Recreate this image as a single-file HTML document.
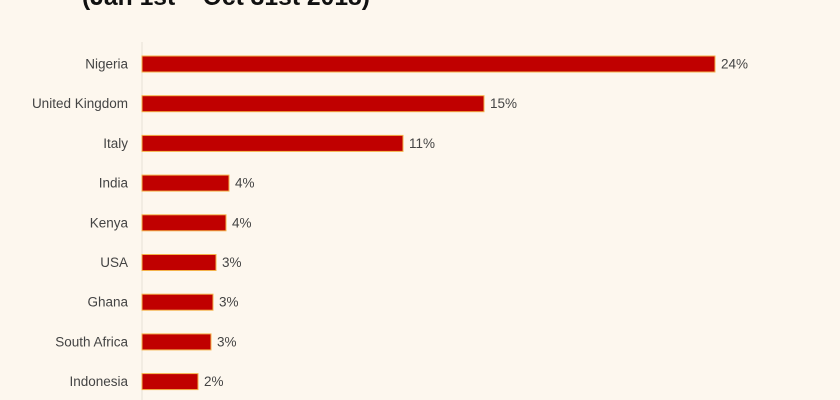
<!DOCTYPE html>
<html><head><style>
body{margin:0;background:#fdf7ee;}
svg{display:block;font-family:"Liberation Sans",sans-serif;}
</style></head><body>
<svg width="840" height="400" xmlns="http://www.w3.org/2000/svg">
<rect width="840" height="400" fill="#fdf7ee"/>
<text x="226" y="5" text-anchor="middle" font-size="25" font-weight="bold" fill="#111" textLength="288" lengthAdjust="spacingAndGlyphs">(Jan 1st – Oct 31st 2018)</text>
<line x1="142" y1="42" x2="142" y2="400" stroke="#e6e0d6" stroke-width="1"/>
<g font-size="13.5" fill="#444">
<g stroke="#f4b24a" stroke-width="1" fill="#c00000">
<rect x="142" y="56" width="573" height="16"/>
<rect x="142" y="95.7" width="342" height="16"/>
<rect x="142" y="135.4" width="261" height="16"/>
<rect x="142" y="175.1" width="87" height="16"/>
<rect x="142" y="214.8" width="84" height="16"/>
<rect x="142" y="254.5" width="74" height="16"/>
<rect x="142" y="294.2" width="71" height="16"/>
<rect x="142" y="333.9" width="69" height="16"/>
<rect x="142" y="373.6" width="56" height="16"/>
</g>
<g text-anchor="end">
<text x="128" y="68.5">Nigeria</text>
<text x="128" y="108.2">United Kingdom</text>
<text x="128" y="147.9">Italy</text>
<text x="128" y="187.6">India</text>
<text x="128" y="227.3">Kenya</text>
<text x="128" y="267">USA</text>
<text x="128" y="306.7">Ghana</text>
<text x="128" y="346.4">South Africa</text>
<text x="128" y="386.1">Indonesia</text>
</g>
<text x="721" y="68.5">24%</text>
<text x="490" y="108.2">15%</text>
<text x="409" y="147.9">11%</text>
<text x="235" y="187.6">4%</text>
<text x="232" y="227.3">4%</text>
<text x="222" y="267">3%</text>
<text x="219" y="306.7">3%</text>
<text x="217" y="346.4">3%</text>
<text x="204" y="386.1">2%</text>
</g>
</svg>
</body></html>
